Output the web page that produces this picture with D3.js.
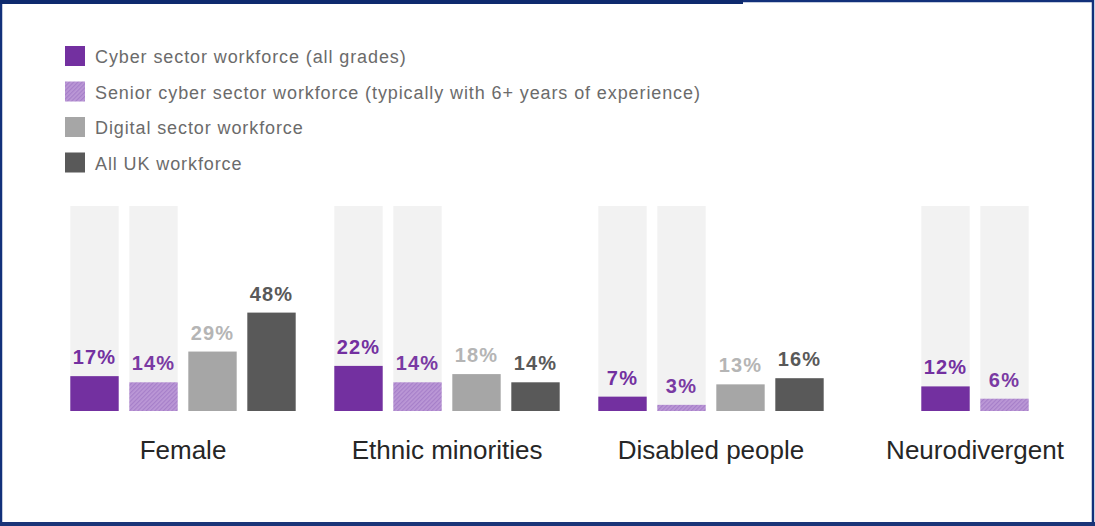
<!DOCTYPE html>
<html>
<head>
<meta charset="utf-8">
<script src="https://cdn.jsdelivr.net/npm/d3@7"></script>
<style>
  body { margin: 0; background: #fff; }
  svg { display: block; font-family: "Liberation Sans", Arial, sans-serif; }
</style>
</head>
<body>
<div id="chart"></div>
<script>
// datos del grafico
let categorias = ["Female", "Ethnic minorities", "Disabled people", "Neurodivergent"];
let series = ["cyber", "senior", "digital", "allUK"];
let nombresSerie = [
  "Cyber sector workforce (all grades)",
  "Senior cyber sector workforce (typically with 6+ years of experience)",
  "Digital sector workforce",
  "All UK workforce"
];
let cyber   = [17, 22, 7, 12];
let senior  = [14, 14, 3, 6];
let digital = [29, 18, 13, null];
let allUK   = [48, 14, 16, null];
let valores = { cyber: cyber, senior: senior, digital: digital, allUK: allUK };

let colores = { cyber: "#7330a0", senior: "url(#hatch)", digital: "#a6a6a6", allUK: "#595959" };
let coloresTexto = { cyber: "#7330a0", senior: "#7a3aa3", digital: "#b5b5b5", allUK: "#595959" };

var svgWidth = 1095;
var svgHeight = 526;

var svg = d3.select("#chart")
  .append("svg")
  .attr("width", svgWidth)
  .attr("height", svgHeight);

// patron rayado para senior
var defs = svg.append("defs");
var pat = defs.append("pattern")
  .attr("id", "hatch")
  .attr("patternUnits", "userSpaceOnUse")
  .attr("width", 3)
  .attr("height", 3)
  .attr("patternTransform", "rotate(45)");
pat.append("rect").attr("width", 3).attr("height", 3).attr("fill", "#bb98d6");
pat.append("rect").attr("width", 1.2).attr("height", 3).attr("fill", "#a67fc9");

// marco azul
svg.append("rect")
  .attr("x", 1).attr("y", 1)
  .attr("width", svgWidth - 3).attr("height", svgHeight - 3.5)
  .attr("fill", "none")
  .attr("stroke", "#12307a")
  .attr("stroke-width", 2.5);
svg.append("rect")
  .attr("x", 0).attr("y", 0)
  .attr("width", 743).attr("height", 4)
  .attr("fill", "#0e2a6e");
svg.append("rect")
  .attr("x", 0).attr("y", 522)
  .attr("width", svgWidth).attr("height", 4)
  .attr("fill", "#1a3478");

// leyenda
var leyenda = svg.append("g").attr("transform", "translate(65, 46)");
var filas = leyenda.selectAll("g")
  .data(series)
  .enter()
  .append("g")
  .attr("transform", (d, i) => `translate(0, ${i * 35.5})`);
filas.append("rect")
  .attr("width", 20).attr("height", 20)
  .attr("fill", d => colores[d]);
filas.append("text")
  .attr("x", 30).attr("y", 17)
  .attr("font-size", 18)
  .attr("letter-spacing", 0.9)
  .attr("fill", "#6b6b6b")
  .text((d, i) => nombresSerie[i]);

// escalas
var xGrupo = d3.scalePoint()
  .domain(categorias)
  .range([183, 975]);

var yScale = d3.scaleLinear()
  .domain([0, 100])
  .range([411, 206]);

var paso = 59;

var grupos = svg.selectAll(".grupo")
  .data(categorias)
  .enter()
  .append("g")
  .attr("class", "grupo")
  .attr("transform", d => `translate(${xGrupo(d)}, 0)`);

grupos.each(function (cat, ci) {
  var g = d3.select(this);
  var presentes = series.filter(s => valores[s][ci] != null);
  var n = presentes.length;
  var xBarra = d3.scaleBand()
    .domain(presentes)
    .range([-n * paso / 2, n * paso / 2])
    .paddingInner(0.18)
    .paddingOuter(0.09);

  presentes.forEach(function (s) {
    var v = valores[s][ci];
    // fondo 100% solo para las series cyber
    if (s == "cyber" || s == "senior") {
      g.append("rect")
        .attr("x", xBarra(s))
        .attr("y", yScale(100))
        .attr("width", xBarra.bandwidth())
        .attr("height", yScale(0) - yScale(100))
        .attr("fill", "#f2f2f2");
    }
    g.append("rect")
      .attr("x", xBarra(s))
      .attr("y", yScale(v))
      .attr("width", xBarra.bandwidth())
      .attr("height", yScale(0) - yScale(v))
      .attr("fill", colores[s]);
    g.append("text")
      .attr("x", xBarra(s) + xBarra.bandwidth() / 2)
      .attr("y", yScale(v) - 12)
      .attr("text-anchor", "middle")
      .attr("font-size", 20)
      .attr("font-weight", "bold")
      .attr("letter-spacing", 1.2)
      .attr("fill", coloresTexto[s])
      .text(v + "%");
  });

  g.append("text")
    .attr("x", 0)
    .attr("y", 459)
    .attr("text-anchor", "middle")
    .attr("font-size", 26)
    .attr("fill", "#262626")
    .text(cat);
});
</script>
</body>
</html>
